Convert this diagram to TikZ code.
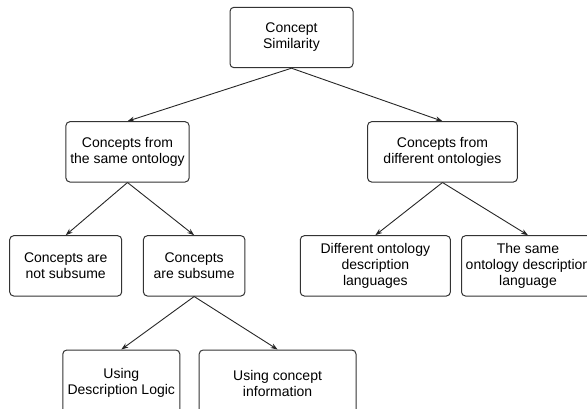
\documentclass[tikz,border=0pt]{standalone}
\usepackage{fontspec}
\setmainfont{Liberation Sans}
\usetikzlibrary{arrows.meta}
\begin{document}
\begin{tikzpicture}[x=1pt,y=-1pt,
  box/.style={draw=black!80, line width=1pt, rounded corners=4pt, align=center,
    inner sep=0pt, font=\fontsize{14}{16}\selectfont, text=black},
  conn/.style={draw=black!85, line width=0.9pt, -{Stealth[length=7pt,width=5pt]}}]
\useasboundingbox (0,0) rectangle (587,408);
\clip (0,0) rectangle (587,408);
\node[box, minimum width=123pt, minimum height=60.4pt] (top) at (291.5,37.5) {Concept\\Similarity};
\node[box, minimum width=123.2pt, minimum height=60.3pt] (same) at (127.5,151.85) {Concepts from\\the same ontology};
\node[box, minimum width=149.8pt, minimum height=60.3pt] (diff) at (442.5,151.85) {Concepts from\\different ontologies};
\node[box, minimum width=112pt, minimum height=60.3pt] (notsub) at (65.7,265.85) {Concepts are\\not subsume};
\node[box, minimum width=101.5pt, minimum height=60.3pt] (sub) at (194.15,265.85) {Concepts\\are subsume};
\node[box, minimum width=150.1pt, minimum height=60.3pt] (difflang) at (375.35,265.85) {Different ontology\\description\\languages};
\node[box, minimum width=133pt, minimum height=60.3pt] (samelang) at (528,265.85) {The same\\ontology description\\language};
\node[box, minimum width=117pt, minimum height=66pt] (dl) at (121.3,383) {Using\\Description Logic};
\node[box, minimum width=156.8pt, minimum height=66pt] (info) at (277.6,383) {Using concept\\information};
\draw[conn] (top.south) -- (same.north);
\draw[conn] (top.south) -- (diff.north);
\draw[conn] (same.south) -- (notsub.north);
\draw[conn] (same.south) -- (sub.north);
\draw[conn] (diff.south) -- (difflang.north);
\draw[conn] (diff.south) -- (samelang.north);
\draw[conn] (sub.south) -- (dl.north);
\draw[conn] (sub.south) -- (info.north);
\end{tikzpicture}
\end{document}
